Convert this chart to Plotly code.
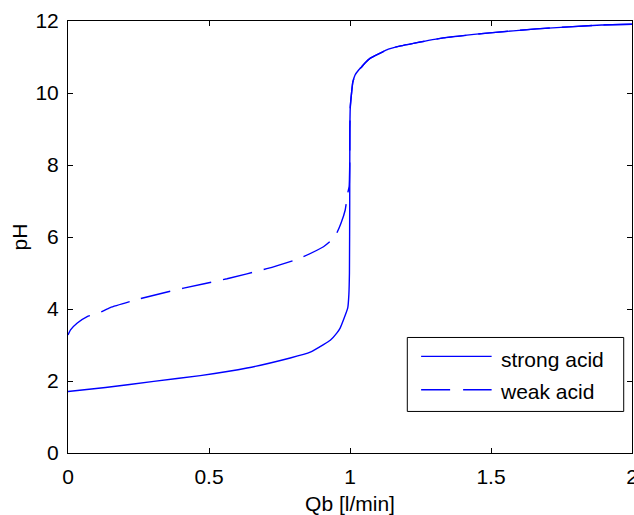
import plotly.graph_objects as go

# Base flow Qb [l/min] and pH
strong_qb = [0.0, 0.133, 0.304, 0.469, 0.635, 0.788, 0.859, 0.906, 0.930, 0.953,
             0.965, 0.977, 0.992, 0.996, 0.998, 0.999, 0.9995, 1.001, 1.006, 1.010,
             1.018, 1.030, 1.042, 1.055, 1.071, 1.100, 1.136, 1.180, 1.225, 1.331,
             1.496, 1.661, 1.892, 2.0]
strong_ph = [1.71, 1.82, 1.99, 2.15, 2.36, 2.64, 2.80, 3.01, 3.13, 3.33,
             3.47, 3.70, 4.03, 4.40, 5.00, 7.00, 9.00, 9.60, 10.04, 10.30,
             10.50, 10.63, 10.73, 10.85, 10.96, 11.08, 11.22, 11.31, 11.38, 11.53,
             11.67, 11.78, 11.89, 11.91]

weak_qb = [0.0, 0.009, 0.033, 0.068, 0.109, 0.150, 0.257, 0.410, 0.564, 0.705,
           0.823, 0.906, 0.930, 0.953, 0.968, 0.983, 0.992, 0.997, 0.999, 0.9995,
           1.001, 1.006, 1.010, 1.018, 1.030, 1.042, 1.055, 1.071, 1.100, 1.136,
           1.180, 1.225, 1.331, 1.496, 1.661, 1.892, 2.0]
weak_ph = [3.28, 3.42, 3.61, 3.79, 3.89, 4.04, 4.29, 4.58, 4.84, 5.12,
           5.41, 5.73, 5.88, 6.11, 6.38, 6.75, 7.22, 7.40, 8.00, 9.00,
           9.60, 10.04, 10.30, 10.50, 10.63, 10.73, 10.85, 10.96, 11.08, 11.22,
           11.31, 11.38, 11.53, 11.67, 11.78, 11.89, 11.91]

x_ticks = [0, 0.5, 1, 1.5, 2]
x_tick_labels = ["0", "0.5", "1", "1.5", "2"]
y_ticks = [0, 2, 4, 6, 8, 10, 12]
y_tick_labels = ["0", "2", "4", "6", "8", "10", "12"]
series_names = ["strong acid", "weak acid"]

FONT = "Liberation Sans, Arial, sans-serif"
BLUE = "#0000FF"
DASH = "30px,12px"

fig = go.Figure()
fig.add_trace(go.Scatter(x=strong_qb, y=strong_ph, mode="lines", name=series_names[0],
                         line=dict(color=BLUE, width=1.4, shape="spline", smoothing=0.4),
                         showlegend=False))
fig.add_trace(go.Scatter(x=weak_qb, y=weak_ph, mode="lines", name=series_names[1],
                         line=dict(color=BLUE, width=1.4, dash=DASH, shape="spline", smoothing=0.4),
                         showlegend=False))

axis_common = dict(showline=True, linecolor="black", linewidth=1, mirror="ticks",
                   ticks="inside", ticklen=5, tickcolor="black", tickwidth=1,
                   showgrid=False, zeroline=False, automargin=False,
                   ticklabeloverflow="allow",
                   tickfont=dict(family=FONT, size=21, color="black"))

fig.update_xaxes(range=[0, 2], tickvals=x_ticks, ticktext=x_tick_labels,
                 title=dict(text="Qb [l/min]", font=dict(family=FONT, size=21, color="black"), standoff=10),
                 ticklabelstandoff=5, **axis_common)
fig.update_yaxes(range=[0, 12], tickvals=y_ticks, ticktext=y_tick_labels,
                 title=dict(text="pH", font=dict(family=FONT, size=21, color="black"), standoff=2),
                 ticklabelstandoff=4, **axis_common)

# Legend box drawn in paper coordinates
shapes = [
    dict(type="rect", xref="paper", yref="paper", x0=0.6016, x1=0.9853, y0=0.0962, y1=0.2674,
         line=dict(color="black", width=1), fillcolor="white", layer="above"),
    dict(type="line", xref="paper", yref="paper", x0=0.6261, x1=0.7511, y0=0.2237, y1=0.2237,
         line=dict(color=BLUE, width=1.4), layer="above"),
    dict(type="line", xref="paper", yref="paper", x0=0.6261, x1=0.7511, y0=0.1464, y1=0.1464,
         line=dict(color=BLUE, width=1.4, dash="29px,13px"), layer="above"),
]
annotations = [
    dict(text=series_names[0], xref="paper", yref="paper", x=0.7640, y=0.2160, xanchor="left",
         yanchor="middle", showarrow=False, font=dict(family=FONT, size=21, color="black")),
    dict(text=series_names[1], xref="paper", yref="paper", x=0.7620, y=0.1430, xanchor="left",
         yanchor="middle", showarrow=False, font=dict(family=FONT, size=21, color="black")),
]

fig.update_layout(template="none", width=634, height=515,
                  margin=dict(l=67.5, r=1.7, t=21, b=61.7, autoexpand=False),
                  plot_bgcolor="white", paper_bgcolor="white",
                  shapes=shapes, annotations=annotations,
                  font=dict(family=FONT, size=21, color="black"))

fig.write_html("out.html", config={"displayModeBar": False},
               post_script="document.body.style.margin='0px';document.body.style.overflow='hidden';")
